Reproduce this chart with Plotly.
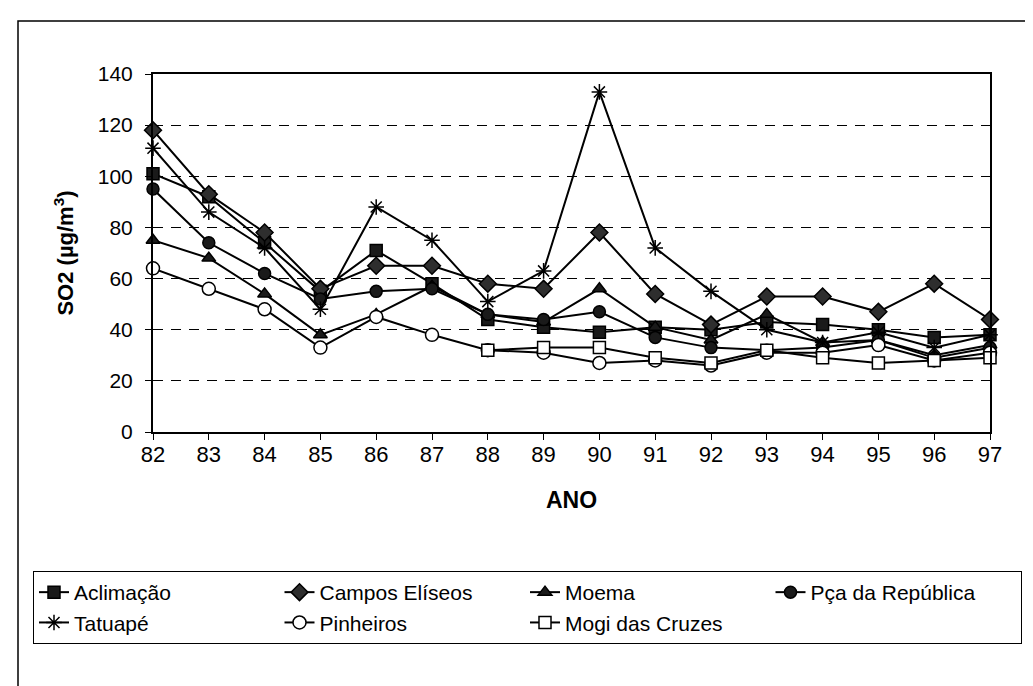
"""
SO2 annual means by monitoring station, 1982-1997, as a Plotly line chart.
"""

import plotly.graph_objects as go

# data
anos = [82, 83, 84, 85, 86, 87, 88, 89, 90, 91, 92, 93, 94, 95, 96, 97]

aclimacao = [101, 92, 74, 55, 71, 58, 44, 41, 39, 41, 40, 43, 42, 40, 37, 38]
campos_eliseos = [118, 93, 78, 56, 65, 65, 58, 56, 78, 54, 42, 53, 53, 47, 58, 44]
moema = [75, 68, 54, 38, 46, 57, 46, 43, 56, 41, 36, 46, 35, 36, 30, 34]
pca_republica = [95, 74, 62, 52, 55, 56, 46, 44, 47, 37, 33, 32, 33, 36, 29, 33]
tatuape = [111, 86, 72, 48, 88, 75, 51, 63, 133, 72, 55, 40, 35, 39, 33, 38]
pinheiros = [64, 56, 48, 33, 45, 38, 32, 31, 27, 28, 26, 31, 31, 34, 28, 31]
mogi_cruzes = [None, None, None, None, None, None,
               32, 33, 33, 29, 27, 32, 29, 27, 28, 29]

y_ticks = [0, 20, 40, 60, 80, 100, 120, 140]

FONT = 'Liberation Sans, Arial, sans-serif'
W, H = 1033, 686
L, R, T, B = 145, 51, 66, 262


def px_to_paper(x=None, y=None):
    """Convert page pixels to paper coordinates."""
    pw = W - L - R
    ph = H - T - B
    out = []
    if x is not None:
        out.append((x - L) / pw)
    if y is not None:
        out.append((H - B - y) / ph)
    return out[0] if len(out) == 1 else tuple(out)


series = [
    ('Aclimação', aclimacao, 'square', '#1a1a1a', 12),
    ('Campos Elíseos', campos_eliseos, 'diamond', '#2e2e2e', 13),
    ('Moema', moema, 'triangle-up', '#1a1a1a', 12),
    ('Pça da República', pca_republica, 'circle', '#1a1a1a', 12),
    ('Tatuapé', tatuape, 'asterisk-open', '#000000', 13),
    ('Pinheiros', pinheiros, 'circle', '#FFFFFF', 13),
    ('Mogi das Cruzes', mogi_cruzes, 'square', '#FFFFFF', 12),
]

fig = go.Figure()
for name, vals, sym, fill, size in series:
    fig.add_trace(go.Scatter(
        x=anos,
        y=vals,
        name=name,
        mode='lines+markers',
        line={'color': '#000000', 'width': 2},
        marker={'symbol': sym, 'size': size, 'color': fill,
                'line': {'color': '#000000', 'width': 1.5}},
        cliponaxis=False,
        connectgaps=False
    ))

fig.update_layout(
    width=W,
    height=H,
    margin={'l': L, 'r': R, 't': T, 'b': B, 'autoexpand': False},
    plot_bgcolor='#FFFFFF',
    paper_bgcolor='#FFFFFF',
    font={'family': FONT, 'color': '#000000', 'size': 21},
    showlegend=True,
    legend={
        'orientation': 'h',
        'x': px_to_paper(x=25),
        'xanchor': 'left',
        'y': px_to_paper(y=563),
        'yanchor': 'top',
        'bordercolor': '#000000',
        'borderwidth': 1,
        'font': {'size': 21, 'family': FONT},
        'entrywidthmode': 'fraction',
        'entrywidth': 0.25,
        'traceorder': 'normal',
    },
)

fig.update_xaxes(
    range=[82, 97],
    tickvals=anos,
    ticktext=[str(a) for a in anos],
    showgrid=False,
    zeroline=False,
    showline=True,
    mirror=True,
    linecolor='#000000',
    linewidth=2,
    ticks='outside',
    ticklen=6,
    tickcolor='#000000',
    tickfont={'size': 22},
    ticklabelstandoff=-4,
    title={'text': '<b>ANO</b>', 'font': {'size': 23}, 'standoff': 25},
)
fig.update_yaxes(
    range=[0, 140],
    tickvals=y_ticks,
    showgrid=True,
    gridcolor='#000000',
    gridwidth=1,
    griddash='10px,8px',
    zeroline=False,
    showline=True,
    mirror=True,
    linecolor='#000000',
    linewidth=2,
    ticks='outside',
    ticklen=6,
    tickcolor='#000000',
    tickfont={'size': 21},
    ticklabelstandoff=8,
    title={'text': '<b>SO2 (µg/m<sup>3</sup>)</b>', 'font': {'size': 22},
           'standoff': 18},
)

# outer frame round the whole chart
x0, y0 = px_to_paper(x=10, y=13)
x1, y1 = px_to_paper(x=1030, y=700)
fig.add_shape(type='rect', xref='paper', yref='paper',
              x0=x0, y0=y0, x1=x1, y1=y1,
              line={'color': '#000000', 'width': 1.5}, layer='below')

fig.write_html("out.html")
